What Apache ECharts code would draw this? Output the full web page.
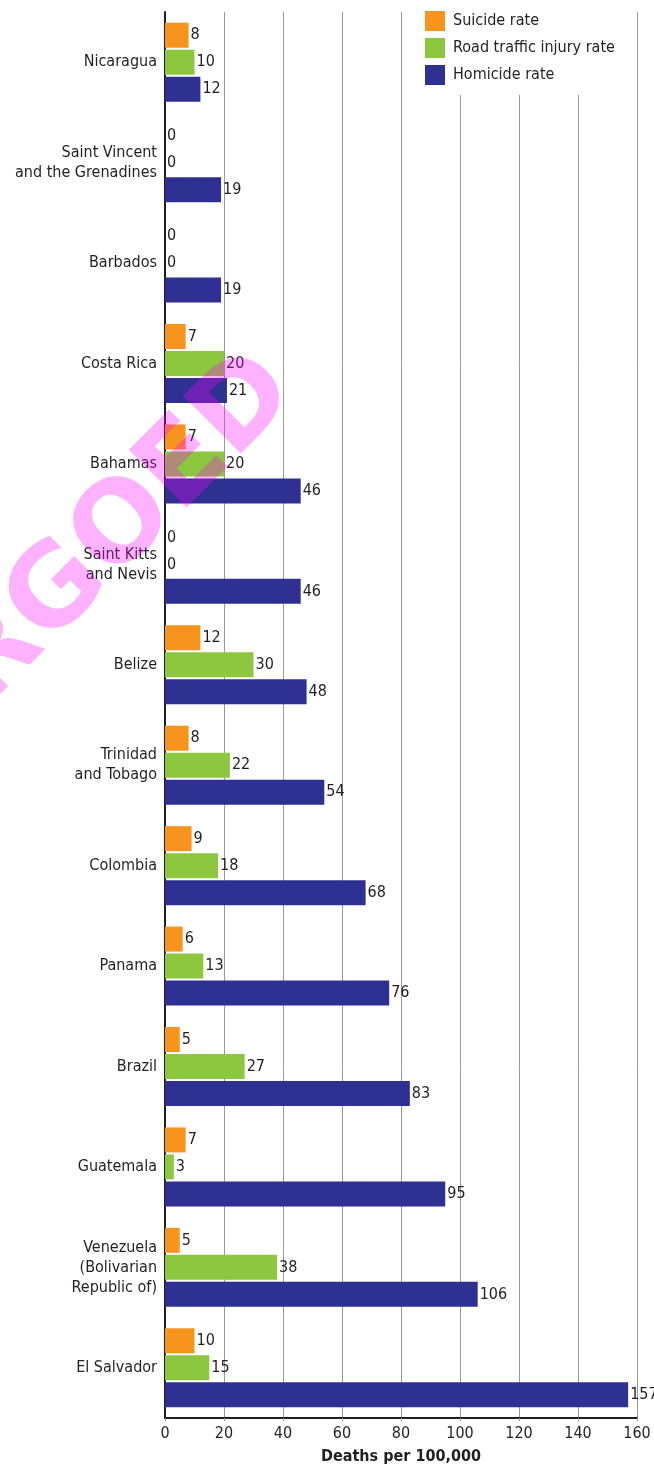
<!DOCTYPE html>
<html>
<head>
<meta charset="utf-8">
<script src="https://cdn.jsdelivr.net/npm/echarts@6/dist/echarts.min.js"></script>
<style>
  html, body { margin: 0; padding: 0; background: #ffffff; }
  #chart { width: 654px; height: 1465px; }
</style>
</head>
<body>
<div id="chart"></div>
<script>
// Countries, listed top to bottom
const countries = [
  'Nicaragua',
  'Saint Vincent\nand the Grenadines',
  'Barbados',
  'Costa Rica',
  'Bahamas',
  'Saint Kitts\nand Nevis',
  'Belize',
  'Trinidad\nand Tobago',
  'Colombia',
  'Panama',
  'Brazil',
  'Guatemala',
  'Venezuela\n(Bolivarian\nRepublic of)',
  'El Salvador'
];

// Deaths per 100,000
const suicideRate  = [8, 0, 0, 7, 7, 0, 12, 8, 9, 6, 5, 7, 5, 10];
const roadRate     = [10, 0, 0, 20, 20, 0, 30, 22, 18, 13, 27, 3, 38, 15];
const homicideRate = [12, 19, 19, 21, 46, 46, 48, 54, 68, 76, 83, 95, 106, 157];

const seriesNames = ['Suicide rate', 'Road traffic injury rate', 'Homicide rate'];
const xTicks = [0, 20, 40, 60, 80, 100, 120, 140, 160];

const FONT = "'Liberation Sans Narrow', 'DejaVu Sans Condensed', 'Roboto', sans-serif";
const TEXT = '#231f20';

const chart = echarts.init(document.getElementById('chart'), null, { renderer: 'canvas' });

function barSeries(name, data, color) {
  return {
    name: name,
    type: 'bar',
    data: data,
    barWidth: 25,
    barGap: '8%',
    itemStyle: { color: color },
    label: {
      show: true,
      position: 'right',
      distance: 2,
      color: TEXT,
      fontFamily: FONT,
      fontSize: 16
    }
  };
}

chart.setOption({
  animation: false,
  backgroundColor: '#ffffff',
  textStyle: { fontFamily: FONT },
  grid: { left: 165, right: 17, top: 12, bottom: 47, containLabel: false, outerBoundsMode: 'none' },
  legend: {
    data: seriesNames,
    orient: 'vertical',
    left: 420,
    top: 0,
    padding: [11, 14, 10, 5],
    itemWidth: 20,
    itemHeight: 20,
    itemGap: 7,
    backgroundColor: '#ffffff',
    icon: 'rect',
    textStyle: { fontFamily: FONT, fontSize: 16, color: TEXT, padding: [0, 0, 0, 3] }
  },
  xAxis: {
    type: 'value',
    min: xTicks[0],
    max: xTicks[xTicks.length - 1],
    interval: xTicks[1] - xTicks[0],
    name: 'Deaths per 100,000',
    nameLocation: 'middle',
    nameGap: 31,
    nameTextStyle: { fontFamily: FONT, fontSize: 16, fontWeight: 'bold', color: TEXT },
    axisLine: { show: true, lineStyle: { color: TEXT, width: 2 } },
    axisTick: { show: true, length: 3, lineStyle: { color: '#999999' } },
    axisLabel: { fontFamily: FONT, fontSize: 16, color: TEXT, margin: 8 },
    splitLine: { show: true, lineStyle: { color: '#999999', width: 1 } }
  },
  yAxis: {
    type: 'category',
    data: countries,
    inverse: true,
    axisLine: { show: true, lineStyle: { color: TEXT, width: 2 } },
    axisTick: { show: false },
    axisLabel: {
      fontFamily: FONT,
      fontSize: 16,
      color: TEXT,
      margin: 8,
      lineHeight: 20,
      align: 'right'
    },
    splitLine: { show: false }
  },
  series: [
    barSeries(seriesNames[0], suicideRate, '#f7941d'),
    barSeries(seriesNames[1], roadRate, '#8dc63f'),
    barSeries(seriesNames[2], homicideRate, '#2e3192')
  ],
  graphic: [
    {
      // diagonal stamp laid over the plot
      type: 'text',
      x: 122,
      y: 531,
      rotation: Math.PI / 4,
      z: 100,
      silent: true,
      style: {
        text: 'RGOED',
        x: 0,
        y: 0,
        textAlign: 'center',
        textVerticalAlign: 'middle',
        font: "bold 112px 'DejaVu Sans', 'Liberation Sans', sans-serif",
        fill: 'rgba(255, 0, 255, 0.3)'
      }
    }
  ]
});
</script>
</body>
</html>
